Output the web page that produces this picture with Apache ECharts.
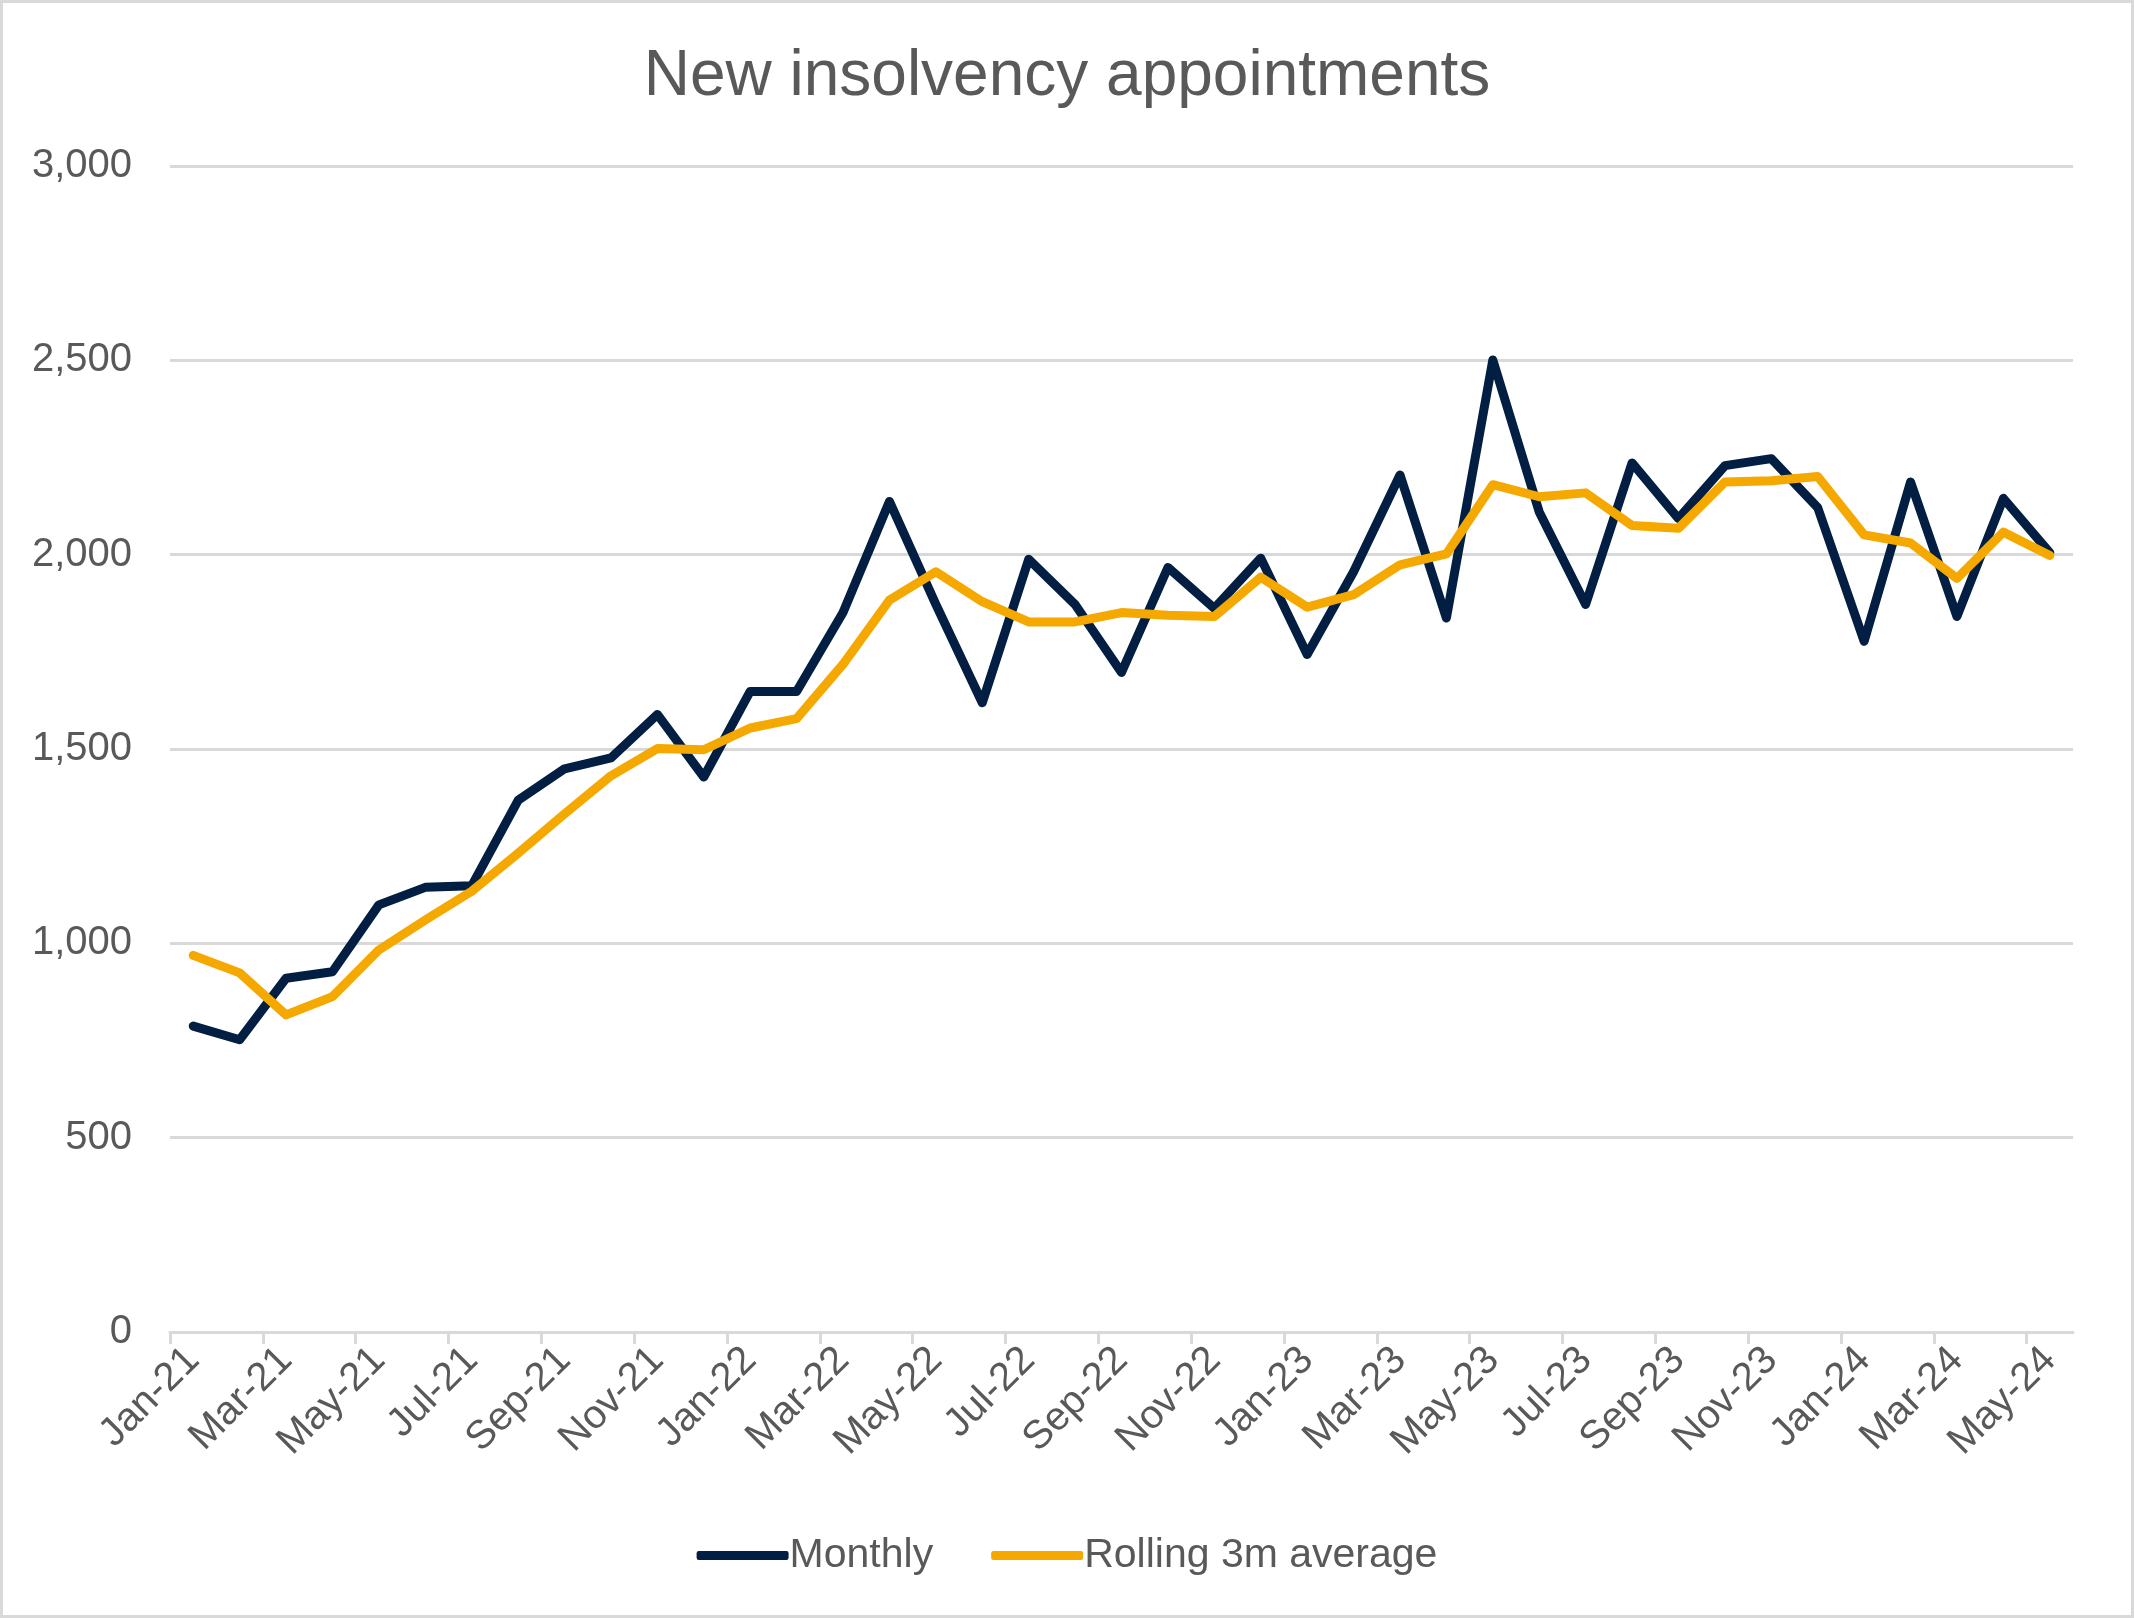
<!DOCTYPE html>
<html>
<head>
<meta charset="utf-8">
<script src="https://cdn.jsdelivr.net/npm/echarts@6/dist/echarts.min.js"></script>
<style>
  html, body { margin: 0; padding: 0; background: #ffffff; }
  #chart { width: 2134px; height: 1618px; }
</style>
</head>
<body>
<div id="chart"></div>
<script>
const months = [
  'Jan-21','Feb-21','Mar-21','Apr-21','May-21','Jun-21','Jul-21','Aug-21','Sep-21','Oct-21','Nov-21','Dec-21',
  'Jan-22','Feb-22','Mar-22','Apr-22','May-22','Jun-22','Jul-22','Aug-22','Sep-22','Oct-22','Nov-22','Dec-22',
  'Jan-23','Feb-23','Mar-23','Apr-23','May-23','Jun-23','Jul-23','Aug-23','Sep-23','Oct-23','Nov-23','Dec-23',
  'Jan-24','Feb-24','Mar-24','Apr-24','May-24'
];
const monthly = [
  787, 752, 910, 927, 1099, 1144, 1148, 1368, 1449, 1477, 1589, 1428,
  1648, 1648, 1851, 2137, 1872, 1619, 1988, 1872, 1697, 1967, 1862, 1991,
  1743, 1956, 2205, 1837, 2501, 2110, 1872, 2236, 2093, 2229, 2247, 2121,
  1777, 2187, 1841, 2145, 2005
];
const rolling3m = [
  969, 924, 816, 863, 983, 1060, 1134, 1232, 1333, 1431, 1501, 1498,
  1554, 1578, 1718, 1883, 1956, 1879, 1827, 1827, 1851, 1844, 1841, 1942,
  1865, 1897, 1974, 2002, 2180, 2149, 2159, 2075, 2068, 2187, 2190, 2201,
  2051, 2030, 1939, 2058, 1998
];
const yTicks = { min: 0, max: 3000, interval: 500 };

const FONT = '"Liberation Sans", Arial, sans-serif';
const TEXT = '#595959';
const GRIDC = '#d9d9d9';
const NAVY = '#021E42';
const ORANGE = '#F5A800';

// tick marks at every other category boundary (no tick at the axis end)
const tickBoundaries = months.map((m, i) => i).filter(i => i % 2 === 0);

const chart = echarts.init(document.getElementById('chart'), null, { renderer: 'canvas' });
chart.setOption({
  animation: false,
  backgroundColor: '#ffffff',
  graphic: [{
    type: 'rect', silent: true, z: 100,
    shape: { x: 1.5, y: 1.5, width: 2131, height: 1615 },
    style: { fill: 'none', stroke: GRIDC, lineWidth: 3 }
  }],
  title: {
    text: 'New insolvency appointments',
    left: 'center', top: 40,
    textStyle: { fontFamily: FONT, fontSize: 64, fontWeight: 'normal', color: TEXT }
  },
  legend: {
    data: ['Monthly', 'Rolling 3m average'],
    left: 'center', top: 1530,
    icon: 'roundRect',
    itemWidth: 92, itemHeight: 9, itemGap: 58,
    textStyle: { fontFamily: FONT, fontSize: 41, color: TEXT, padding: [0, 0, 0, -4] }
  },
  grid: { left: 170, right: 61, top: 166, bottom: 286, containLabel: false },
  xAxis: [
    {
      type: 'category',
      data: months,
      boundaryGap: true,
      axisLine: { show: true, lineStyle: { color: GRIDC, width: 3 } },
      axisTick: { show: false },
      axisLabel: {
        interval: 1, rotate: 45, margin: 22,
        fontFamily: FONT, fontSize: 40, color: TEXT
      },
      splitLine: { show: false }
    },
    {
      type: 'value',
      position: 'bottom',
      min: 0, max: months.length,
      axisLine: { show: false },
      axisTick: { show: true, customValues: tickBoundaries, length: 12, lineStyle: { color: GRIDC, width: 3 } },
      axisLabel: { show: false },
      splitLine: { show: false }
    }
  ],
  yAxis: {
    type: 'value',
    min: yTicks.min, max: yTicks.max, interval: yTicks.interval,
    axisLine: { show: false },
    axisTick: { show: false },
    axisLabel: {
      margin: 38, fontFamily: FONT, fontSize: 40, color: TEXT,
      formatter: v => v.toLocaleString('en-US')
    },
    splitLine: { show: true, lineStyle: { color: GRIDC, width: 3 } }
  },
  series: [
    {
      name: 'Monthly', type: 'line', data: monthly, xAxisIndex: 0,
      symbol: 'none', smooth: false,
      itemStyle: { color: NAVY },
      lineStyle: { color: NAVY, width: 9, cap: 'round', join: 'round' }
    },
    {
      name: 'Rolling 3m average', type: 'line', data: rolling3m, xAxisIndex: 0,
      symbol: 'none', smooth: false,
      itemStyle: { color: ORANGE },
      lineStyle: { color: ORANGE, width: 9, cap: 'round', join: 'round' }
    }
  ]
});
</script>
</body>
</html>
